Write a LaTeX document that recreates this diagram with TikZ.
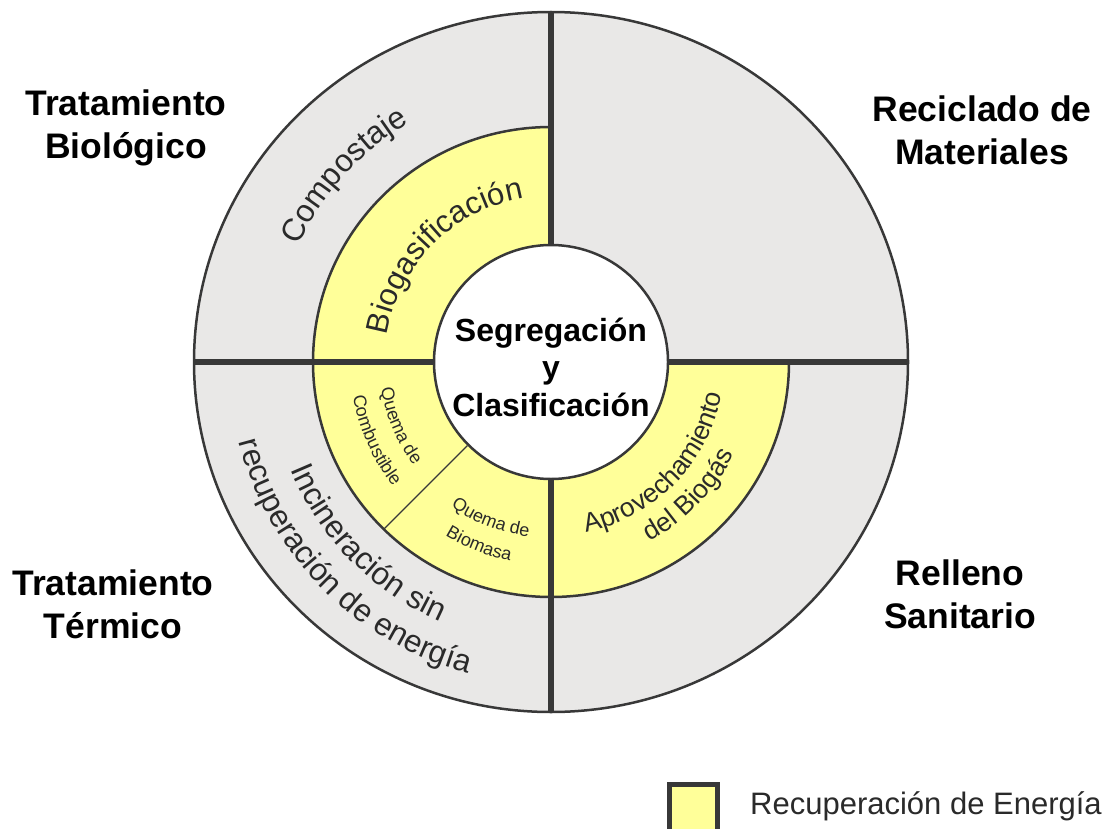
\documentclass[tikz,border=0pt]{standalone}
\usepackage{fontspec}
\setmainfont{Liberation Sans}
\usetikzlibrary{decorations.text}
\definecolor{greyc}{HTML}{E9E8E7}
\definecolor{yel}{HTML}{FFFF99}
\definecolor{linec}{HTML}{383838}
\definecolor{ringtxt}{HTML}{2A2A2A}
\newcommand\ringbig{\fontsize{31.5}{35}\selectfont}
\newcommand\ringbio{\fontsize{31}{35}\selectfont}
\newcommand\ringmid{\fontsize{26.5}{30}\selectfont}
\newcommand\ringsmall{\fontsize{18}{21}\selectfont}
\begin{document}
\begin{tikzpicture}[x=1pt,y=1pt,
  head/.style={font=\fontsize{35.5}{43}\selectfont\bfseries, align=center, text=black, inner sep=0},
  ringline/.style={draw=linec, line width=2.5},
  divider/.style={draw=linec, line width=6},
  sepline/.style={draw=linec, line width=1.3},
  arctext/.style={decorate, decoration={text along path, text={#1}, text align=center, text color=ringtxt}}]
\useasboundingbox (0,0) rectangle (1116,-829);
\fill[white] (0,0) rectangle (1116,-829);
\begin{scope}[shift={(551,-362)}]
  \fill[greyc] (0,0) ellipse [x radius=357, y radius=350];
  \fill[yel] (0,0) -- (0,235) arc[start angle=90, end angle=360, x radius=238, y radius=235] -- cycle;
  \draw[ringline] (0,235) arc[start angle=90, end angle=360, x radius=238, y radius=235];
  \draw[ringline] (0,0) ellipse [x radius=357, y radius=350];
  \node[circle, draw=linec, line width=2.5, fill=white, minimum size=234, inner sep=0] (core) at (0,0) {};
  \coordinate (otop) at (0,350);
  \coordinate (obot) at (0,-350);
  \coordinate (oleft) at (-357,0);
  \coordinate (oright) at (357,0);
  \coordinate (ysep) at (225:236.5);
  \draw[divider] (core.north) -- (otop);
  \draw[divider] (core.south) -- (obot);
  \draw[divider] (core.west) -- (oleft);
  \draw[divider] (core.east) -- (oright);
  \draw[sepline] (core.225) -- (ysep);
  % curved texts
  \path[arctext={|\ringbig|Compostaje}] (188:278) arc[start angle=188, end angle=88, radius=278];
  \path[arctext={|\ringbio|Biogasificación}] (195:166) arc[start angle=195, end angle=75, radius=166];
  \path[arctext={|\ringmid|Aprovechamiento}] (-105:174) arc[start angle=-105, end angle=16, radius=174];
  \path[arctext={|\ringmid|del Biogás}] (-100:205) arc[start angle=-100, end angle=12, radius=205];
  \path[arctext={|\ringsmall|Quema de}] (170:172) arc[start angle=170, end angle=236, radius=172];
  \path[arctext={|\ringsmall|Combustible}] (170:201) arc[start angle=170, end angle=238, radius=201];
  \path[arctext={|\ringsmall|Quema de}] (215:176) arc[start angle=215, end angle=283, radius=176];
  \path[arctext={|\ringsmall|Biomasa}] (214:203) arc[start angle=214, end angle=283, radius=203];
  \path[arctext={|\ringbig|Incineración sin}] (180:282) arc[start angle=180, end angle=269.2, radius=282];
  \path[arctext={|\ringbig|recuperación de energía}] (165:322) arc[start angle=165, end angle=284.5, radius=322];
\end{scope}
\node[font=\fontsize{32}{37.5}\selectfont\bfseries, align=center, inner sep=0] (coretext) at (551,-367) {Segregación\\y\\Clasificación};
\node[head] (tbio) at (126,-128) {Tratamiento\\Biológico};
\node[head] (recic) at (982,-130) {Reciclado de\\Materiales};
\node[head] (tterm) at (113,-604) {Tratamiento\\Térmico};
\node[head] (relleno) at (960,-594) {Relleno\\Sanitario};
\node[draw=linec, line width=5, fill=yel, minimum width=48, minimum height=48, inner sep=0] (legbox) at (693.5,-808.5) {};
\node[anchor=base west, inner sep=0, font=\fontsize{31}{36}\selectfont, text=ringtxt] (legtext) at (750,-814) {Recuperación de Energía};
\end{tikzpicture}
\end{document}
